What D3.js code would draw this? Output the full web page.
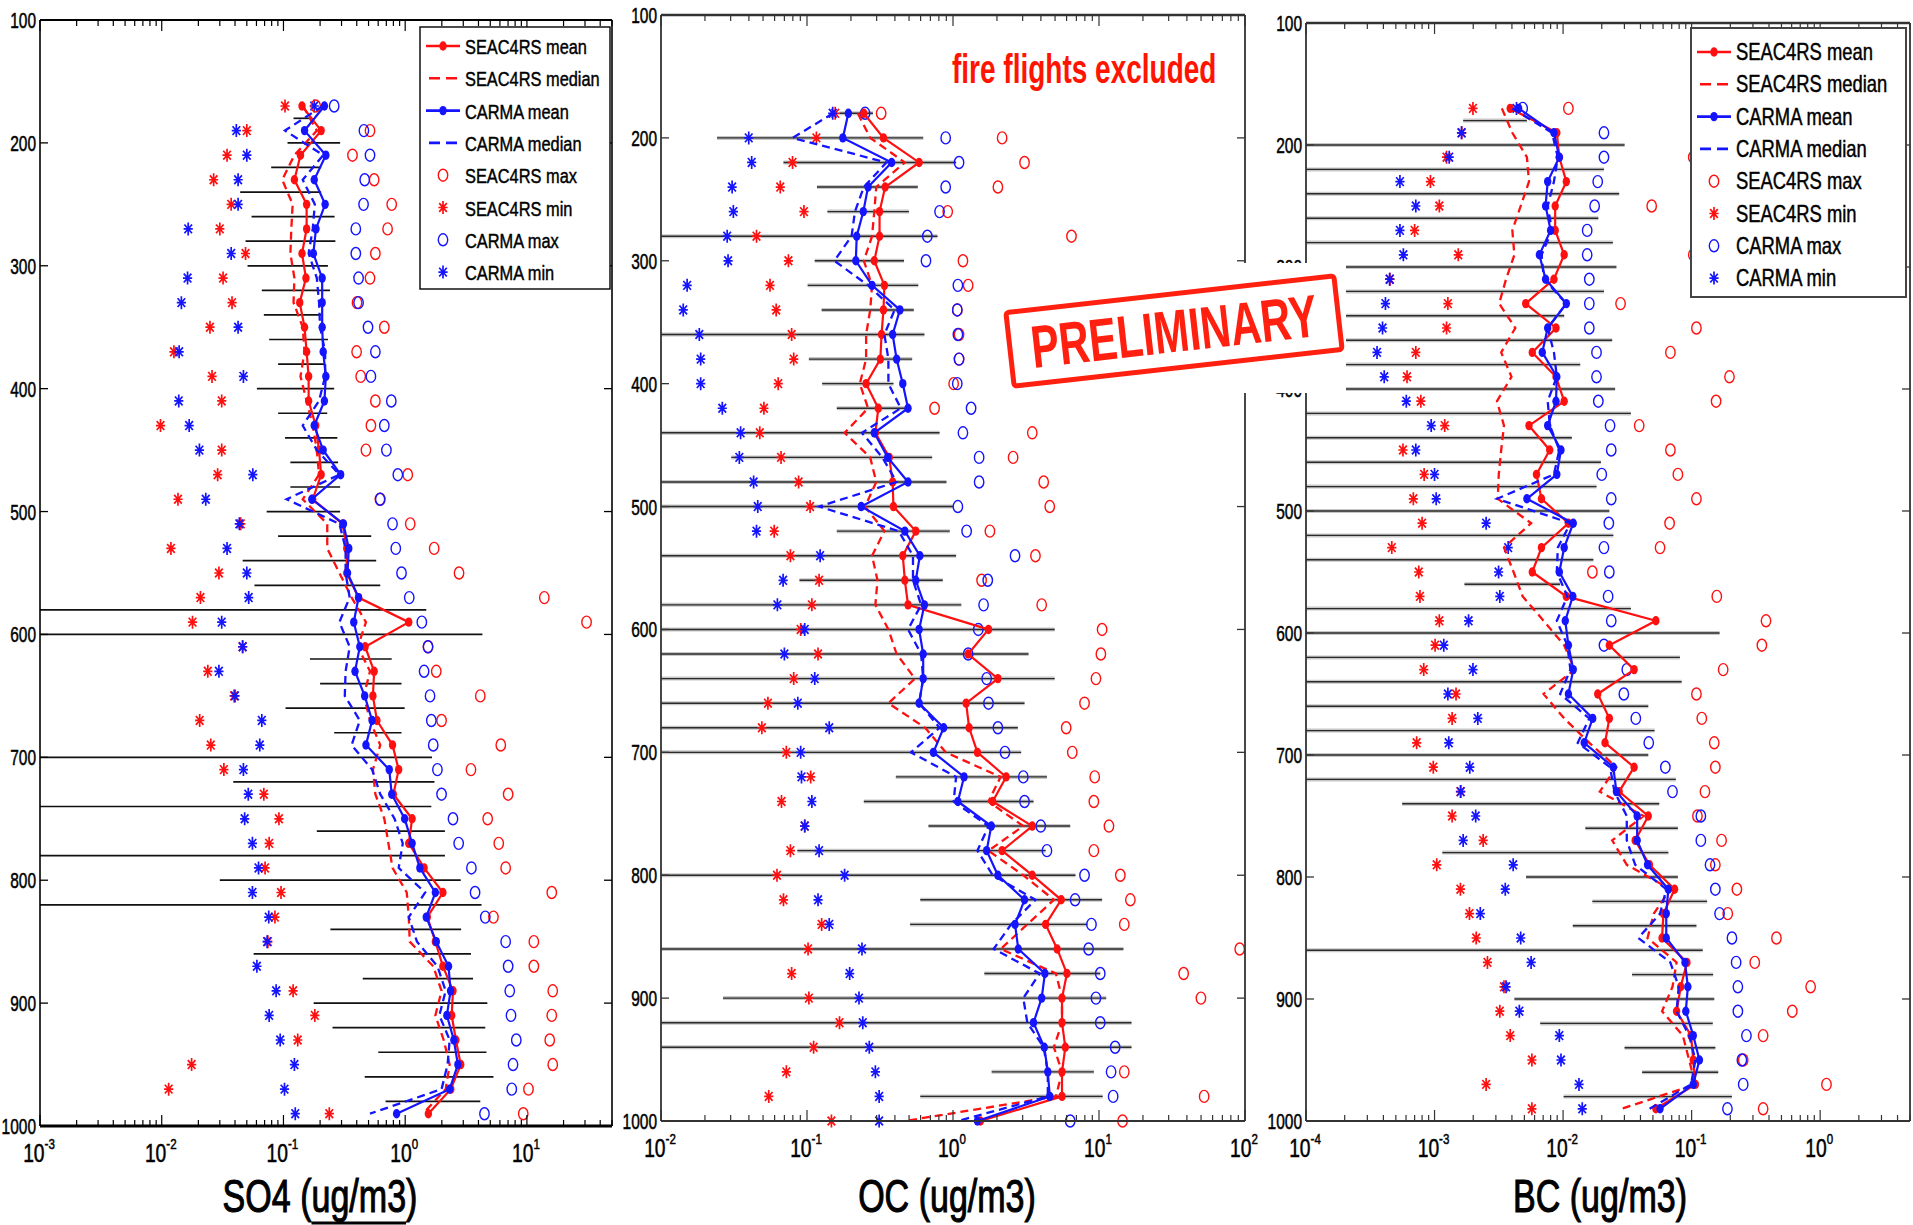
<!DOCTYPE html>
<html>
<head>
<meta charset="utf-8">
<script src="https://cdn.jsdelivr.net/npm/d3@7"></script>
<style>
  html, body { margin: 0; padding: 0; background: #fff; }
  svg { display: block; font-family: "Liberation Sans", Arial, Helvetica, sans-serif; }
</style>
</head>
<body>
<svg id="chart" width="1913" height="1225"></svg>
<script>
// ---------------- SO4 (ug/m3) ----------------
const so4Levels = [170,190,210,230,250,270,290,310,330,350,370,390,410,430,450,470,490,510,530,550,570,590,610,630,650,670,690,710,730,750,770,790,810,830,850,870,890,910,930,950,970,990];
const so4SeacMean   = [0.142,0.204,0.138,0.123,0.155,0.155,0.142,0.153,0.136,0.149,0.155,0.161,0.161,0.184,0.196,0.204,0.174,0.306,0.331,0.331,0.414,1.07,0.469,0.556,0.543,0.586,0.787,0.884,0.80,1.14,1.07,1.43,2.04,1.52,1.77,2.04,2.47,2.41,2.61,2.86,2.37,1.55];
const so4SeacMedian = [0.145,0.188,0.123,0.0977,0.119,0.116,0.114,0.123,0.121,0.144,0.149,0.138,0.155,0.174,0.188,0.196,0.144,0.229,0.229,0.288,0.363,0.476,0.408,0.514,0.458,0.514,0.624,0.543,0.569,0.674,0.728,0.787,1.03,1.07,1.09,1.70,1.99,1.77,2.07,2.32,2.15,1.40];
const so4SeacMax    = [0.184,0.514,0.369,0.556,0.775,0.717,0.569,0.514,0.402,0.674,0.399,0.431,0.569,0.523,0.476,1.05,0.62,1.10,1.73,2.77,13.9,30.9,1.54,1.80,4.14,1.99,6.10,3.47,7.01,4.76,5.87,6.69,16.0,5.31,11.4,11.4,16.3,16.0,15.4,16.3,10.3,9.33];
const so4SeacMin    = [0.103,0.050,0.0344,0.0267,0.0372,0.030,0.0488,0.0319,0.0378,0.0249,0.0126,0.0259,0.0311,0.00977,0.0311,0.0288,0.0136,0.0446,0.0119,0.0295,0.0208,0.0179,0.0462,0.0239,0.0393,0.0205,0.0253,0.0324,0.069,0.0918,0.0763,0.0706,0.0955,0.0851,0.0745,null,0.120,0.181,0.131,0.0176,0.0114,0.238];
const so4CarmaMean   = [0.217,0.149,0.223,0.179,0.220,0.185,0.176,0.208,0.208,0.208,0.212,0.223,0.217,0.179,0.212,0.295,0.171,0.311,0.344,0.336,0.414,0.378,0.424,0.387,0.465,0.535,0.476,0.740,0.775,0.99,1.14,1.32,1.77,1.49,1.80,2.27,2.36,2.20,2.51,2.71,2.32,0.85];
const so4CarmaMedian = [0.21,0.103,0.212,0.144,0.181,0.174,0.161,0.188,0.196,0.200,0.220,0.220,0.196,0.144,0.188,0.288,0.106,0.288,0.324,0.324,0.350,0.288,0.350,0.324,0.319,0.424,0.363,0.535,0.624,0.818,0.955,0.884,1.46,1.07,1.25,1.84,2.15,1.91,2.32,2.23,1.99,0.514];
const so4CarmaMax    = [0.261,0.458,0.514,0.465,0.455,0.393,0.393,0.414,0.414,0.495,0.569,0.523,0.769,0.674,0.701,0.870,0.624,0.787,0.837,0.933,1.08,1.37,1.54,1.43,1.60,1.64,1.70,1.84,1.99,2.47,2.75,3.50,3.75,4.55,6.69,7.01,7.23,7.40,8.18,7.69,7.51,4.48];
const so4CarmaMin    = [0.179,0.041,0.050,0.0424,0.0424,0.0165,0.0372,0.0163,0.0145,0.0424,0.0139,0.0469,0.0138,0.0168,0.0204,0.056,0.023,0.0434,0.0344,0.050,0.0518,0.0311,0.0462,0.0295,0.040,0.0664,0.0639,0.0469,0.0514,0.048,0.0556,0.0624,0.0556,0.0757,0.0734,0.0605,0.0871,0.0763,0.094,0.123,0.102,0.125];
// horizontal spread bars (null = reaches the left axis)
const so4BarLevels = [180,200,220,240,260,280,300,320,340,360,380,400,420,440,460,480,500,520,540,560,580,600,620,640,660,680,700,720,740,760,780,800,820,840,860,880,900,920,940,960,980];
const so4BarLow  = [0.121,0.108,0.0793,0.0441,0.0547,0.0488,0.0507,0.0664,0.069,0.0763,0.0904,0.0605,0.0904,0.103,0.114,0.114,0.0728,0.0904,0.0462,0.0578,null,null,0.165,0.200,0.104,0.261,null,0.0387,null,0.188,null,0.030,null,0.243,0.0569,0.448,0.177,0.253,0.601,0.465,0.690];
const so4BarHigh = [0.168,0.292,0.204,0.204,0.263,0.267,0.232,0.241,0.204,0.232,0.220,0.261,0.229,0.277,0.281,0.292,0.292,0.526,0.578,0.624,1.49,4.31,0.775,0.933,0.99,0.933,1.66,1.74,1.64,2.12,2.12,2.86,4.24,2.88,3.47,3.61,4.73,4.55,4.65,5.31,4.14];

// ---------------- OC (ug/m3) ----------------
const ocLevels = [180,200,220,240,260,280,300,320,340,360,380,400,420,440,460,480,500,520,540,560,580,600,620,640,660,680,700,720,740,760,780,800,820,840,860,880,900,920,940,960,980,1000];
const ocSeacMean   = [0.245,0.334,0.586,0.343,0.314,0.314,0.289,0.339,0.334,0.324,0.318,0.254,0.308,0.294,0.366,0.386,0.391,0.556,0.453,0.468,0.492,1.75,1.27,2.03,1.23,1.29,1.47,2.31,1.87,3.49,2.17,3.49,5.51,4.31,5.17,6.03,5.58,5.58,5.88,5.58,5.58,1.54];
const ocSeacMedian = [0.223,0.271,0.468,0.298,0.289,0.279,0.245,0.279,0.271,0.254,0.254,0.230,0.262,0.181,0.271,0.298,0.250,0.339,0.279,0.304,0.294,0.361,0.411,0.549,0.361,0.645,0.891,2.12,1.75,3.03,1.75,3.03,4.91,3.23,2.12,5.07,5.58,5.58,4.91,5.58,5.07,0.468];
const ocSeacMax    = [0.322,2.17,3.09,2.03,0.920,6.48,1.17,1.27,1.07,1.1,1.1,1.01,0.748,3.49,2.58,4.18,4.60,1.79,3.67,1.57,4.05,10.5,10.3,9.53,7.96,5.96,6.56,9.35,9.22,11.7,9.22,14.0,16.4,14.9,92,38,49.9,null,null,14.9,52.5,14.5];
const ocSeacMin    = [0.156,0.116,0.0796,0.0656,0.0953,0.0451,0.0746,0.0558,0.0615,0.0785,0.0811,0.0635,0.0507,0.0475,0.0664,0.0876,0.105,0.0596,0.077,0.121,0.108,0.0905,0.119,0.0811,0.054,0.0491,0.0722,0.106,0.0669,0.0965,0.077,0.0623,0.069,0.126,0.1017,0.0785,0.103,0.167,0.111,0.0722,0.0547,0.147];
const ocCarmaMean   = [0.192,0.176,0.380,0.262,0.243,0.219,0.216,0.279,0.433,0.386,0.411,0.453,0.492,0.289,0.357,0.492,0.235,0.468,0.593,0.556,0.637,0.586,0.625,0.625,0.586,0.863,0.734,1.19,1.08,1.83,1.70,2.03,3.09,2.66,2.80,4.26,4.05,3.56,4.22,4.46,4.60,1.47];
const ocCarmaMedian = [0.151,0.0796,0.350,0.245,0.213,0.202,0.154,0.262,0.398,0.339,0.361,0.361,0.439,0.238,0.328,0.411,0.121,0.425,0.532,0.532,0.605,0.492,0.605,0.625,0.586,0.809,0.515,1.05,1.01,1.75,1.47,1.87,3.67,2.50,1.90,3.92,3.03,3.23,4.18,4.46,4.46,1.08];
const ocCarmaMax    = [0.250,0.891,1.10,0.891,0.809,0.667,0.653,1.08,1.07,1.08,1.10,1.07,1.33,1.17,1.51,1.51,1.08,1.24,2.66,1.73,1.62,1.49,1.27,1.70,1.75,2.03,2.27,3.03,3.09,3.99,4.40,7.96,6.86,8.88,8.49,10.2,9.53,10.2,12.9,12.1,12.5,6.35];
const ocCarmaMin    = [0.150,0.0399,0.0418,0.0307,0.0313,0.0284,0.0288,0.0151,0.0142,0.0183,0.0187,0.0187,0.0263,0.0351,0.0344,0.0431,0.046,0.0451,0.123,0.0686,0.0627,0.0965,0.070,0.113,0.0865,0.142,0.0905,0.0917,0.108,0.0965,0.121,0.181,0.119,0.142,0.238,0.196,0.227,0.241,0.267,0.294,0.312,0.312];
const ocBarLevels = [180,200,220,240,260,280,300,320,340,360,380,400,420,440,460,480,500,520,540,560,580,600,620,640,660,680,700,720,740,760,780,800,820,840,860,880,900,920,940,960,980];
const ocBarLow  = [0.167,0.0242,0.069,0.117,0.138,null,0.113,0.101,0.126,null,0.103,0.127,0.160,null,0.0303,null,null,0.160,null,0.0888,null,null,null,null,null,null,null,0.406,0.245,0.679,0.0859,null,0.597,0.508,null,1.64,0.0266,null,null,1.84,0.597];
const ocBarHigh = [0.283,0.625,1.05,0.574,0.499,0.783,0.462,0.578,0.539,0.637,0.525,0.391,0.492,0.809,0.720,0.902,1.0,0.950,1.05,0.851,1.14,4.97,3.29,4.97,3.09,2.78,2.93,4.40,3.56,6.35,4.31,6.90,10.5,8.32,14.7,10.2,11.2,16.7,16.7,9.22,10.6];

// ---------------- BC (ug/m3) ----------------
const bcLevels = [170,190,210,230,250,270,290,310,330,350,370,390,410,430,450,470,490,510,530,550,570,590,610,630,650,670,690,710,730,750,770,790,810,830,850,870,890,910,930,950,970,990];
const bcSeacMean   = [0.00388,0.00894,0.00935,0.0106,0.00868,0.00868,0.0102,0.00849,0.00512,0.00881,0.00576,0.00881,0.0102,0.00543,0.00787,0.00621,0.00679,0.011,0.00679,0.00576,0.0106,0.0527,0.0229,0.0357,0.0186,0.0229,0.0212,0.0357,0.0273,0.046,0.0364,0.047,0.0737,0.0604,0.0589,0.092,0.0823,0.0764,0.099,0.103,0.107,0.0527];
const bcSeacMedian = [0.00334,0.00403,0.00523,0.00543,0.00468,0.00403,0.00418,0.0036,0.00318,0.00425,0.0033,0.00397,0.00306,0.00347,0.0033,0.00316,0.0031,0.00564,0.00347,0.00412,0.00485,0.00705,0.0102,0.0123,0.00705,0.0102,0.016,0.026,0.0193,0.0422,0.0241,0.0313,0.0683,0.0508,0.0454,0.0764,0.071,0.0589,0.0855,0.0956,0.107,0.0286];
const bcSeacMax    = [0.0110,0.15,0.103,0.2,0.0489,0.25,0.103,0.3,0.028,0.109,0.0684,0.197,0.155,0.0391,0.0684,0.0782,0.109,0.0674,0.0568,0.0169,0.157,0.379,0.352,0.176,0.109,0.120,0.150,0.153,0.127,0.111,0.171,0.153,0.225,0.191,0.457,0.310,0.843,0.607,0.360,0.252,1.12,0.360];
const bcSeacMin    = [0.00199,0.00163,0.00124,0.000929,0.00109,0.0007,0.00153,0.00045,0.00127,0.00124,0.000715,0.000611,0.000782,0.00120,0.000568,0.00083,0.000684,0.0008,0.000465,0.000754,0.00077,0.00109,0.00101,0.000824,0.00147,0.00137,0.000726,0.000978,0.00159,0.00137,0.00239,0.00104,0.00159,0.00187,0.00211,0.00258,0.00347,0.00322,0.00388,0.00572,0.00252,0.00572];
const bcCarmaMean   = [0.00451,0.00849,0.00935,0.00759,0.00731,0.008,0.00654,0.00731,0.0106,0.00759,0.00689,0.00894,0.00881,0.00759,0.00963,0.00894,0.00523,0.012,0.0102,0.00935,0.0119,0.0104,0.011,0.012,0.011,0.017,0.0146,0.0246,0.026,0.0377,0.0377,0.0454,0.0659,0.0635,0.0635,0.0888,0.0935,0.0901,0.103,0.115,0.103,0.0568];
const bcCarmaMedian = [0.00403,0.0082,0.0091,0.00849,0.00759,0.0082,0.0068,0.0071,0.0106,0.00759,0.00849,0.00894,0.00759,0.0079,0.00935,0.00849,0.00306,0.0114,0.0091,0.00894,0.0108,0.00894,0.0108,0.0114,0.00949,0.016,0.013,0.0232,0.0251,0.0313,0.0313,0.0364,0.0635,0.0568,0.0385,0.0683,0.0794,0.0764,0.0956,0.107,0.099,0.0471];
const bcCarmaMax    = [0.00485,0.0208,0.0208,0.0186,0.0176,0.0154,0.0154,0.016,0.016,0.016,0.0182,0.0182,0.0188,0.0232,0.0237,0.020,0.0237,0.0227,0.0208,0.0229,0.0224,0.0237,0.0208,0.0313,0.0297,0.0368,0.0464,0.0625,0.071,0.118,0.118,0.139,0.153,0.165,0.206,0.222,0.229,0.229,0.267,0.246,0.252,0.190];
const bcCarmaMin    = [0.00434,0.00162,0.0013,0.000538,0.000715,0.000538,0.000572,0.000447,0.000415,0.000394,0.000357,0.000406,0.000603,0.000942,0.000715,0.001,0.00103,0.00252,0.00374,0.00315,0.00322,0.00184,0.00118,0.00199,0.00127,0.00217,0.00129,0.00188,0.0016,0.00209,0.00167,0.00409,0.00355,0.00227,0.00468,0.00564,0.0036,0.00457,0.00935,0.00963,0.0133,0.0141];
const bcBarLevels = [180,200,220,240,260,280,300,320,340,360,380,400,420,440,460,480,500,520,540,560,580,600,620,640,660,680,700,720,740,760,780,800,820,840,860,880,900,920,940,960,980];
const bcBarLow  = [0.00167,null,null,null,null,null,null,null,null,null,null,null,null,null,null,null,null,null,null,0.00171,null,null,null,null,null,null,null,null,0.00056,0.0149,0.00115,0.00515,0.0169,0.0119,null,0.0344,0.00418,0.00664,0.0301,0.0412,0.0101];
const bcBarHigh = [0.00523,0.0301,0.0208,0.0273,0.0188,0.0244,0.026,0.0208,0.0102,0.0241,0.0136,0.0254,0.0337,0.0117,0.0197,0.0182,0.0229,0.0246,0.0172,0.00949,0.0337,0.165,0.0811,0.0836,0.046,0.0515,0.046,0.0754,0.056,0.0782,0.0659,0.0782,0.132,0.109,0.122,0.147,0.150,0.146,0.153,0.161,0.206];

// ---------------- shared labels ----------------
const pressureTicks = [100,200,300,400,500,600,700,800,900,1000];
const legendLabels = ["SEAC4RS mean","SEAC4RS median","CARMA mean","CARMA median","SEAC4RS max","SEAC4RS min","CARMA max","CARMA min"];
const RED = "#ff1010", BLUE = "#1414ff";
const SX = 0.77;   // horizontal condensing applied to all lettering

const svg = d3.select("#chart");

function condText(parent, x, y, str, size, opt = {}) {
  const t = parent.append("text")
    .attr("transform", `translate(${x},${y}) scale(${opt.sx || SX},1)`)
    .attr("font-size", size)
    .attr("font-weight", opt.weight || "normal")
    .attr("text-anchor", opt.anchor || "start")
    .attr("fill", opt.fill || "#000")
    .text(str);
  if (opt.thick) t.attr("stroke", opt.fill || "#000").attr("stroke-width", opt.thick);
  return t;
}

const starPath = "M0,-6.5V6.5M-4.6,0H4.6M-3.8,-4.4L3.8,4.4M-3.8,4.4L3.8,-4.4";

function drawStar(g, x, y, color) {
  g.append("path").attr("transform", `translate(${x},${y})`).attr("d", starPath)
    .attr("stroke", color).attr("stroke-width", 1.7).attr("fill", "none");
}
function drawRing(g, x, y, color) {
  g.append("ellipse").attr("cx", x).attr("cy", y).attr("rx", 4.7).attr("ry", 6)
    .attr("fill", "none").attr("stroke", color).attr("stroke-width", 1.4);
}
function drawDot(g, x, y, color) {
  g.append("ellipse").attr("cx", x).attr("cy", y).attr("rx", 3.7).attr("ry", 4.7).attr("fill", color);
}

function drawPanel(cfg) {
  const g = svg.append("g");
  const x = d3.scaleLog().domain(cfg.domain).range(cfg.xRange);
  const y = d3.scaleLinear().domain([100, 1000]).range(cfg.yRange);
  const [x0, x1] = cfg.xRange, [y0, y1] = cfg.yRange;

  // spread bars
  const bars = g.append("g");
  cfg.barLevels.forEach((p, i) => {
    const lo = cfg.barLow[i] == null ? x0 : x(cfg.barLow[i]);
    const hi = x(cfg.barHigh[i]);
    if (cfg.soft) {
      bars.append("line").attr("x1", lo).attr("x2", hi).attr("y1", y(p)).attr("y2", y(p))
        .attr("stroke", "#9a9a9a").attr("stroke-width", 4).attr("opacity", 0.55);
      bars.append("line").attr("x1", lo).attr("x2", hi).attr("y1", y(p)).attr("y2", y(p))
        .attr("stroke", "#2a2a2a").attr("stroke-width", 1.4);
    } else {
      bars.append("line").attr("x1", lo).attr("x2", hi).attr("y1", y(p)).attr("y2", y(p))
        .attr("stroke", "#111").attr("stroke-width", 1.7);
    }
  });

  const pts = (vals) => cfg.levels.map((p, i) => ({ p, v: vals[i] })).filter(d => d.v != null);
  const line = d3.line().x(d => x(d.v)).y(d => y(d.p));

  // min / max markers
  pts(cfg.seacMin).forEach(d => drawStar(g, x(d.v), y(d.p), RED));
  pts(cfg.carmaMin).forEach(d => drawStar(g, x(d.v), y(d.p), BLUE));
  pts(cfg.seacMax).forEach(d => drawRing(g, x(d.v), y(d.p), RED));
  pts(cfg.carmaMax).forEach(d => drawRing(g, x(d.v), y(d.p), BLUE));

  // medians (dashed) and means (solid with dots)
  g.append("path").attr("d", line(pts(cfg.seacMedian))).attr("fill", "none")
    .attr("stroke", RED).attr("stroke-width", 2.3).attr("stroke-dasharray", "8,5");
  g.append("path").attr("d", line(pts(cfg.seacMean))).attr("fill", "none")
    .attr("stroke", RED).attr("stroke-width", 2.2);
  pts(cfg.seacMean).forEach(d => drawDot(g, x(d.v), y(d.p), RED));
  g.append("path").attr("d", line(pts(cfg.carmaMedian))).attr("fill", "none")
    .attr("stroke", BLUE).attr("stroke-width", 2.3).attr("stroke-dasharray", "8,5");
  g.append("path").attr("d", line(pts(cfg.carmaMean))).attr("fill", "none")
    .attr("stroke", BLUE).attr("stroke-width", 2.2);
  pts(cfg.carmaMean).forEach(d => drawDot(g, x(d.v), y(d.p), BLUE));

  // frame
  const fc = cfg.frameColor;
  g.append("line").attr("x1", x0).attr("x2", x1).attr("y1", y0).attr("y2", y0).attr("stroke", fc).attr("stroke-width", cfg.topW);
  g.append("line").attr("x1", x0).attr("x2", x1).attr("y1", y1).attr("y2", y1).attr("stroke", fc).attr("stroke-width", cfg.bottomW);
  g.append("line").attr("x1", x0).attr("x2", x0).attr("y1", y0).attr("y2", y1).attr("stroke", fc).attr("stroke-width", cfg.sideW);
  g.append("line").attr("x1", x1).attr("x2", x1).attr("y1", y0).attr("y2", y1).attr("stroke", fc).attr("stroke-width", cfg.sideW);

  // pressure ticks and labels
  pressureTicks.forEach(p => {
    g.append("line").attr("x1", x0).attr("x2", x0 + 8).attr("y1", y(p)).attr("y2", y(p)).attr("stroke", fc).attr("stroke-width", 1.3);
    g.append("line").attr("x1", x1).attr("x2", x1 - 8).attr("y1", y(p)).attr("y2", y(p)).attr("stroke", fc).attr("stroke-width", 1.3);
    condText(g, x0 - 4, y(p) + 8, String(p), 21.5, { anchor: "end", thick: 0.5, sx: 0.72 });
  });

  // log ticks top and bottom, labelled at each decade
  const lo = Math.floor(Math.log10(cfg.domain[0])), hi = Math.ceil(Math.log10(cfg.domain[1]));
  for (let k = lo; k <= hi; k++) {
    for (let m = 1; m <= 9; m++) {
      const v = m * Math.pow(10, k);
      if (v < cfg.domain[0] * 0.999 || v > cfg.domain[1] * 1.001) continue;
      const len = m === 1 ? 11 : 6;
      const xv = x(v);
      g.append("line").attr("x1", xv).attr("x2", xv).attr("y1", y1).attr("y2", y1 - len).attr("stroke", fc).attr("stroke-width", 1.2);
      g.append("line").attr("x1", xv).attr("x2", xv).attr("y1", y0).attr("y2", y0 + len).attr("stroke", fc).attr("stroke-width", 1.2);
      if (m === 1) {
        const t = g.append("text")
          .attr("transform", `translate(${xv - 1},${y1 + 36}) scale(${SX},1)`)
          .attr("font-size", 25).attr("text-anchor", "middle")
          .attr("stroke", "#000").attr("stroke-width", 0.5);
        t.append("tspan").text("10");
        t.append("tspan").attr("dy", -13).attr("font-size", 15).text(String(k));
      }
    }
  }

  // axis title
  const tg = g.append("g").attr("transform", `translate(${cfg.titleX},1212) scale(0.74,1)`);
  const tt = tg.append("text").attr("font-size", 46).attr("text-anchor", "middle")
    .attr("stroke", "#000").attr("stroke-width", 1.1).text(cfg.title);
  if (cfg.underline) {
    const n = cfg.title.length;
    const a = tt.node().getStartPositionOfChar(n - 6).x;
    const b = tt.node().getEndPositionOfChar(n - 2).x;
    tg.append("line").attr("x1", a).attr("x2", b).attr("y1", 11).attr("y2", 11).attr("stroke", "#000").attr("stroke-width", 3);
  }

  // legend
  if (cfg.legend) {
    const L = cfg.legend;
    const lg = g.append("g");
    lg.append("rect").attr("x", L.x).attr("y", L.y).attr("width", L.w).attr("height", L.h)
      .attr("fill", "#fff").attr("stroke", L.stroke).attr("stroke-width", L.sw);
    legendLabels.forEach((lab, i) => {
      const cy = L.row0 + i * L.step;
      const color = lab.startsWith("SEAC4RS") ? RED : BLUE;
      const xa = L.x + 6, xb = L.x + 40, xc = (xa + xb) / 2;
      if (lab.endsWith("mean")) {
        lg.append("line").attr("x1", xa).attr("x2", xb).attr("y1", cy).attr("y2", cy).attr("stroke", color).attr("stroke-width", 2.6);
        drawDot(lg, xc, cy, color);
      } else if (lab.endsWith("median")) {
        lg.append("line").attr("x1", xa + 3).attr("x2", xb).attr("y1", cy).attr("y2", cy).attr("stroke", color).attr("stroke-width", 2.6).attr("stroke-dasharray", "11,6");
      } else if (lab.endsWith("max")) {
        drawRing(lg, xc, cy, color);
      } else {
        drawStar(lg, xc, cy, color);
      }
      condText(lg, L.x + 45, cy + 8, lab, L.font, { sx: L.sx, thick: 0.45 });
    });
  }
  return { x, y };
}

drawPanel({
  levels: so4Levels, seacMean: so4SeacMean, seacMedian: so4SeacMedian, seacMax: so4SeacMax, seacMin: so4SeacMin,
  carmaMean: so4CarmaMean, carmaMedian: so4CarmaMedian, carmaMax: so4CarmaMax, carmaMin: so4CarmaMin,
  barLevels: so4BarLevels, barLow: so4BarLow, barHigh: so4BarHigh,
  domain: [1e-3, 50], xRange: [40, 612], yRange: [20, 1126],
  frameColor: "#000", topW: 2, bottomW: 3, sideW: 1.6, soft: false,
  title: "SO4 (ug/m3)", titleX: 320, underline: true,
  legend: { x: 420, y: 27, w: 190, h: 262, stroke: "#000", sw: 1.4, row0: 46, step: 32.3, font: 21, sx: 0.78 }
});

drawPanel({
  levels: ocLevels, seacMean: ocSeacMean, seacMedian: ocSeacMedian, seacMax: ocSeacMax, seacMin: ocSeacMin,
  carmaMean: ocCarmaMean, carmaMedian: ocCarmaMedian, carmaMax: ocCarmaMax, carmaMin: ocCarmaMin,
  barLevels: ocBarLevels, barLow: ocBarLow, barHigh: ocBarHigh,
  domain: [1e-2, 1e2], xRange: [661, 1245], yRange: [15, 1121],
  frameColor: "#333", topW: 2.4, bottomW: 2.2, sideW: 1.8, soft: true,
  title: "OC (ug/m3)", titleX: 947, underline: false, legend: null
});

drawPanel({
  levels: bcLevels, seacMean: bcSeacMean, seacMedian: bcSeacMedian, seacMax: bcSeacMax, seacMin: bcSeacMin,
  carmaMean: bcCarmaMean, carmaMedian: bcCarmaMedian, carmaMax: bcCarmaMax, carmaMin: bcCarmaMin,
  barLevels: bcBarLevels, barLow: bcBarLow, barHigh: bcBarHigh,
  domain: [1e-4, 5], xRange: [1306, 1910], yRange: [23, 1121],
  frameColor: "#333", topW: 2.4, bottomW: 2.2, sideW: 1.8, soft: true,
  title: "BC (ug/m3)", titleX: 1600, underline: false,
  legend: { x: 1691, y: 28, w: 215, h: 269, stroke: "#444", sw: 2, row0: 52, step: 32.3, font: 23, sx: 0.8 }
});

// annotation
condText(svg, 952, 83, "fire flights excluded", 40, { weight: "bold", fill: "#ff1400", sx: 0.7 });

// stamp with its white backing
const stamp = svg.append("g");
stamp.append("rect").attr("x", 995).attr("y", 263).attr("width", 351).attr("height", 130).attr("fill", "#fff");
const sg = stamp.append("g").attr("transform", "translate(1174,331) rotate(-6.4)");
sg.append("rect").attr("x", -165).attr("y", -37).attr("width", 330).attr("height", 74).attr("rx", 3)
  .attr("fill", "none").attr("stroke", "#ff2010").attr("stroke-width", 5);
condText(sg, 0, 21, "PRELIMINARY", 60, { anchor: "middle", weight: "bold", fill: "#ff2010", sx: 0.7 });
</script>
</body>
</html>
